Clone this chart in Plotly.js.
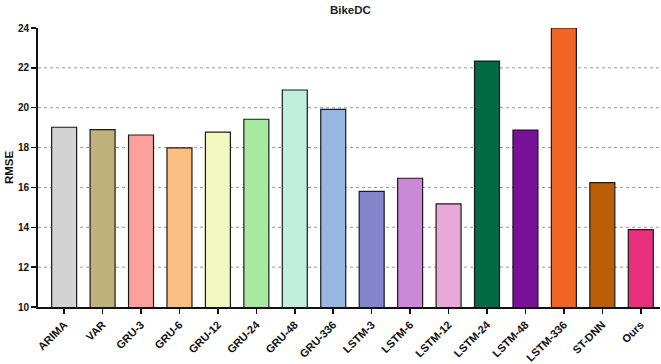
<!DOCTYPE html>
<html>
<head>
<meta charset="utf-8">
<script src="https://cdn.plot.ly/plotly-3.0.1.min.js"></script>
<style>
  html, body { margin: 0; padding: 0; background: #fff; }
  #chart { width: 661px; height: 364px; }
</style>
</head>
<body>
<div id="chart"></div>
<script>
// RMSE of each model on the BikeDC dataset
const models = ["ARIMA", "VAR", "GRU-3", "GRU-6", "GRU-12", "GRU-24", "GRU-48", "GRU-336",
                "LSTM-3", "LSTM-6", "LSTM-12", "LSTM-24", "LSTM-48", "LSTM-336", "ST-DNN", "Ours"];
const rmse = [19.02, 18.9, 18.63, 17.98, 18.78, 19.42, 20.89, 19.92,
              15.8, 16.46, 15.17, 22.34, 18.88, 24.0, 16.24, 13.88];
const barColors = ["#d3d3d3", "#bfb27c", "#fca09e", "#fbbf82", "#f1f8c1", "#a8e9a0", "#bfeedc", "#98b7e0",
                   "#8585cb", "#cb88d6", "#e8a8d8", "#046a45", "#7a1299", "#f06424", "#bb5e08", "#e8307c"];
const yTicks = [10, 12, 14, 16, 18, 20, 22, 24];
const gridLevels = [12, 14, 16, 18, 20, 22];

const fam = "Liberation Sans, Arial, sans-serif";

const trace = {
  type: "bar",
  x: models,
  y: rmse,
  width: 0.65,
  marker: { color: barColors, line: { color: "#1a1a1a", width: 1.2 } },
  cliponaxis: false,
  hoverinfo: "x+y"
};

// dotted horizontal guides (none on the top edge)
const gridShapes = gridLevels.map(v => ({
  type: "line", xref: "paper", yref: "y", x0: 0, x1: 1, y0: v, y1: v,
  line: { color: "#9a9a9a", width: 1, dash: "dot" }, layer: "below"
}));

const layout = {
  width: 661, height: 364,
  margin: { l: 38, r: 1, t: 28, b: 57 },
  paper_bgcolor: "#fff", plot_bgcolor: "#fff",
  showlegend: false,
  title: { text: "BikeDC", x: 0.53, xanchor: "center", y: 0.985, yanchor: "top",
           font: { family: fam, size: 11.5, color: "#222", weight: "bold" } },
  xaxis: {
    type: "category",
    range: [-0.68, 15.5],
    showline: true, linecolor: "#111", linewidth: 2,
    ticks: "outside", ticklen: 5, tickwidth: 1.5, tickcolor: "#111",
    tickangle: -45, tickfont: { family: fam, size: 11, color: "#111", weight: "bold" },
    showgrid: false, zeroline: false, fixedrange: true
  },
  yaxis: {
    range: [10, 24],
    tickvals: yTicks,
    showline: true, linecolor: "#111", linewidth: 2,
    ticks: "outside", ticklen: 5, tickwidth: 1.5, tickcolor: "#111",
    tickfont: { family: fam, size: 10, color: "#111", weight: "bold" },
    showgrid: false, zeroline: false,
    title: { text: "RMSE", standoff: 2, font: { family: fam, size: 11.5, color: "#111", weight: "bold" } },
    fixedrange: true
  },
  shapes: gridShapes
};

Plotly.newPlot("chart", [trace], layout, { displayModeBar: false, staticPlot: true });
</script>
</body>
</html>
